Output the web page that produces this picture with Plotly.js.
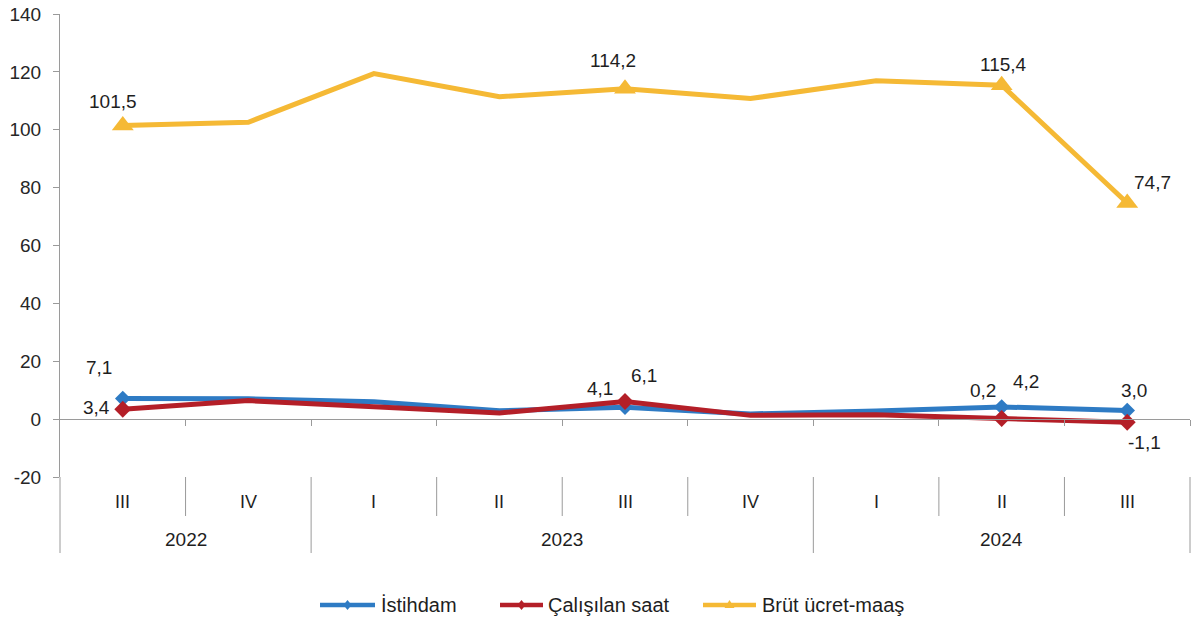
<!DOCTYPE html>
<html>
<head>
<meta charset="utf-8">
<script src="https://cdn.plot.ly/plotly-3.0.1.min.js"></script>
<style>
  html, body { margin: 0; padding: 0; background: #ffffff; }
  #chart { width: 1192px; height: 624px; }
</style>
</head>
<body>
<div id="chart"></div>
<script>
// ---- data ----
const quarters = ['III', 'IV', 'I', 'II', 'III', 'IV', 'I', 'II', 'III'];
const years = ['2022', '2022', '2023', '2023', '2023', '2023', '2024', '2024', '2024'];
const istihdam = [7.1, 7.0, 6.0, 2.9, 4.1, 1.8, 2.8, 4.2, 3.0];
const calisilanSaat = [3.4, 6.4, 4.3, 2.1, 6.1, 1.3, 1.5, 0.2, -1.1];
const brutUcret = [101.5, 102.6, 119.4, 111.4, 114.2, 110.8, 116.9, 115.4, 74.7];
const seriesNames = ['İstihdam', 'Çalışılan saat', 'Brüt ücret-maaş'];
const labelledIdx = [0, 4, 7, 8];
const yTicks = [-20, 0, 20, 40, 60, 80, 100, 120, 140];

// ---- styles ----
const colors = ['#2e7bc4', '#b41f28', '#f5b935'];
const symbols = ['diamond', 'diamond', 'triangle-up'];
const markerSizes = [12, 13, 19];
const labelOffsets = [
  [[-24, 31], [-25, 19], [24, 25], [7, 20]],
  [[-26, 2], [19, 26], [-19, 28], [17, -20]],
  [[-10, 24], [-12, 28], [2, 21], [25, 20]]
];
const FONT = 'Liberation Sans, Arial, sans-serif';
const axisGray = '#9a9a9a';
const textColor = '#1e1e1e';

// plot frame in pixels (for legend placement)
const W = 1192, H = 624, ML = 60, MR = 2, MT = 14, MB = 147;
const PW = W - ML - MR, PH = H - MT - MB;
const px2x = px => (px - ML) / PW;
const py2y = py => (H - MB - py) / PH;

const xIdx = quarters.map((_, i) => i);
const allSeries = [istihdam, calisilanSaat, brutUcret];
const fmt = v => v.toFixed(1).replace('.', ',');

const traces = allSeries.map((vals, s) => ({
  type: 'scatter',
  mode: 'lines+markers',
  name: seriesNames[s],
  x: xIdx,
  y: vals,
  line: { color: colors[s], width: 5 },
  marker: {
    color: colors[s],
    symbol: symbols[s],
    opacity: 1,
    line: { width: 0 },
    size: xIdx.map(i => labelledIdx.includes(i) ? markerSizes[s] : 0)
  },
  showlegend: false,
  hoverinfo: 'skip'
}));

const annotations = [];
allSeries.forEach((vals, s) => {
  labelledIdx.forEach((i, k) => {
    annotations.push({
      xref: 'x', yref: 'y', x: i, y: vals[i],
      text: fmt(vals[i]), showarrow: false,
      xanchor: 'center', yanchor: 'middle',
      xshift: labelOffsets[s][k][0], yshift: labelOffsets[s][k][1],
      font: { family: FONT, size: 19, color: textColor }
    });
  });
});

// category labels
const xmin = -0.5, xmax = quarters.length - 0.5;
quarters.forEach((q, i) => {
  annotations.push({
    xref: 'x', yref: 'paper', x: i, y: 0, yshift: -25,
    text: q, showarrow: false, xanchor: 'center', yanchor: 'middle',
    font: { family: FONT, size: 18, color: textColor }
  });
});
// year groups
const groups = [];
years.forEach((y, i) => {
  if (!groups.length || groups[groups.length - 1].year !== y) groups.push({ year: y, start: i, end: i });
  else groups[groups.length - 1].end = i;
});
groups.forEach(g => {
  annotations.push({
    xref: 'x', yref: 'paper', x: (g.start + g.end) / 2, y: 0, yshift: -62,
    text: g.year, showarrow: false, xanchor: 'center', yanchor: 'middle',
    font: { family: FONT, size: 19, color: textColor }
  });
});

// divider shapes
const shapes = [];
const toPaper = b => (b - xmin) / (xmax - xmin);
for (let b = -0.5; b <= xmax + 0.01; b += 1) {
  const left = Math.floor(b), right = Math.ceil(b);
  const isYear = left < 0 || right >= years.length || years[left] !== years[right];
  shapes.push({
    type: 'line', xref: 'paper', yref: 'paper',
    ysizemode: 'pixel', yanchor: 0,
    x0: toPaper(b), x1: toPaper(b), y0: 0, y1: isYear ? -76 : -39,
    line: { color: axisGray, width: 1 }
  });
}

// custom legend (line sample + small marker + text)
const legendY = py2y(605);
const legendLines = [[320, 375], [500, 543], [703, 756]];
const legendText = [379, 546, 760];
const legendPaths = [
  'M-4,0L0,5L4,0L0,-5Z',
  'M-4,0L0,5L4,0L0,-5Z',
  'M-5,-3L5,-3L0,5Z'
];
seriesNames.forEach((name, s) => {
  const [a, b] = legendLines[s];
  shapes.push({
    type: 'line', xref: 'paper', yref: 'paper',
    x0: px2x(a), x1: px2x(b), y0: legendY, y1: legendY,
    line: { color: colors[s], width: 4.5 }
  });
  shapes.push({
    type: 'path', xref: 'paper', yref: 'paper',
    xsizemode: 'pixel', ysizemode: 'pixel',
    xanchor: px2x((a + b) / 2), yanchor: legendY,
    path: legendPaths[s],
    fillcolor: colors[s], line: { width: 0 }
  });
  annotations.push({
    xref: 'paper', yref: 'paper', x: px2x(legendText[s]), y: legendY,
    text: name, showarrow: false, xanchor: 'left', yanchor: 'middle',
    font: { family: FONT, size: 20, color: textColor }
  });
});

const boundaries = [];
for (let b = 0.5; b <= xmax + 0.01; b += 1) boundaries.push(b);

const layout = {
  width: W, height: H,
  margin: { l: ML, r: MR, t: MT, b: MB },
  paper_bgcolor: '#ffffff', plot_bgcolor: '#ffffff',
  font: { family: FONT, size: 18, color: textColor },
  showlegend: false,
  xaxis: {
    range: [xmin, xmax],
    anchor: 'free', position: 20 / 160,
    showline: true, linecolor: axisGray, linewidth: 1,
    ticks: 'outside', ticklen: 6, tickcolor: axisGray, tickwidth: 1,
    tickmode: 'array', tickvals: boundaries, showticklabels: false,
    showgrid: false, zeroline: false, fixedrange: true
  },
  yaxis: {
    range: [-20, 140],
    tickmode: 'array', tickvals: yTicks, ticktext: yTicks.map(v => String(v)),
    showline: true, linecolor: axisGray, linewidth: 1,
    ticks: 'outside', ticklen: 6, tickcolor: axisGray,
    ticklabelstandoff: 8,
    tickfont: { family: FONT, size: 19, color: '#262626' },
    showgrid: false, zeroline: false, fixedrange: true
  },
  annotations: annotations,
  shapes: shapes
};

Plotly.newPlot('chart', traces, layout, { displayModeBar: false, staticPlot: true });
</script>
</body>
</html>
